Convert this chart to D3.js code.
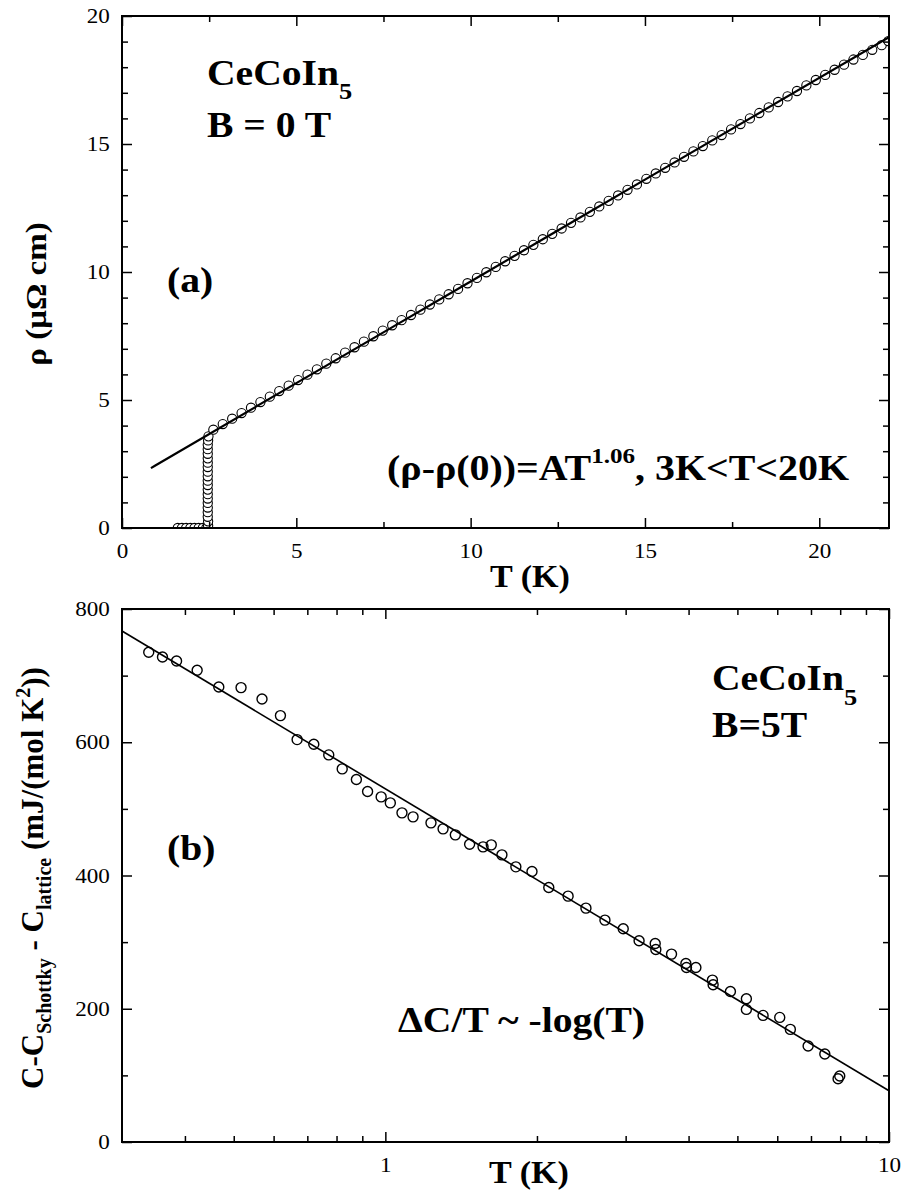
<!DOCTYPE html>
<html>
<head>
<meta charset="utf-8">
<script src="https://d3js.org/d3.v7.min.js"></script>
</head>
<body style="margin:0;background:#fff">
<div id="chart"></div>
<script>
// ---- panel (a): resistivity, B = 0 T ----
const resT = [1.60, 1.72, 1.84, 1.96, 2.08, 2.20, 2.32, 2.42,
    2.47, 2.47, 2.46, 2.46, 2.46, 2.46, 2.46, 2.46, 2.46, 2.46, 2.46,
    2.46, 2.46, 2.46, 2.46, 2.46, 2.46, 2.46, 2.46, 2.47, 2.48,
    2.62, 2.89, 3.16, 3.43, 3.70, 3.97, 4.24, 4.51, 4.78, 5.05,
    5.32, 5.59, 5.86, 6.13, 6.40, 6.67, 6.94, 7.21, 7.48, 7.75,
    8.02, 8.29, 8.56, 8.83, 9.10, 9.37, 9.64, 9.91, 10.18, 10.45,
    10.72, 10.99, 11.26, 11.53, 11.80, 12.07, 12.34, 12.61, 12.88, 13.15,
    13.42, 13.69, 13.96, 14.23, 14.50, 14.77, 15.04, 15.31, 15.58, 15.85,
    16.12, 16.39, 16.66, 16.93, 17.20, 17.47, 17.74, 18.01, 18.28, 18.55,
    18.82, 19.09, 19.36, 19.63, 19.90, 20.17, 20.44, 20.71, 20.98, 21.25,
    21.52, 21.79, 21.98];
const resRho = [0, 0, 0, 0, 0, 0, 0, 0,
    0.10, 0.26, 0.44, 0.62, 0.80, 0.98, 1.15, 1.32, 1.50, 1.68, 1.85,
    2.02, 2.20, 2.38, 2.55, 2.72, 2.90, 3.08, 3.25, 3.42, 3.58,
    3.84, 4.06, 4.27, 4.49, 4.70, 4.92, 5.13, 5.35, 5.56, 5.78,
    5.99, 6.20, 6.42, 6.63, 6.85, 7.06, 7.28, 7.49, 7.71, 7.92,
    8.12, 8.32, 8.53, 8.73, 8.93, 9.13, 9.34, 9.56, 9.77, 9.99,
    10.20, 10.42, 10.63, 10.85, 11.06, 11.28, 11.49, 11.70, 11.92, 12.13,
    12.35, 12.56, 12.78, 12.99, 13.21, 13.42, 13.64, 13.85, 14.07, 14.28,
    14.50, 14.71, 14.92, 15.14, 15.35, 15.57, 15.78, 16.00, 16.21, 16.43,
    16.64, 16.86, 17.07, 17.29, 17.50, 17.70, 17.90, 18.10, 18.30, 18.48,
    18.68, 18.86, 19.02];
// fit (rho - rho(0)) = A T^1.06
const resFitT = [0.83, 5, 10, 15, 22];
const resFitRho = [2.34, 5.66, 9.63, 13.61, 19.17];

const resXMajor = [0, 5, 10, 15, 20];
const resXMinor = [2.5, 7.5, 12.5, 17.5];
const resYMajor = [0, 5, 10, 15, 20];
const resYMinor = [1, 2, 3, 4, 6, 7, 8, 9, 11, 12, 13, 14, 16, 17, 18, 19];

// ---- panel (b): specific heat, B = 5 T ----
const heatT = [0.339, 0.361, 0.385, 0.423, 0.467, 0.517, 0.569, 0.619, 0.668, 0.721,
    0.772, 0.821, 0.876, 0.922, 0.981, 1.023, 1.079, 1.135, 1.232, 1.302,
    1.377, 1.470, 1.563, 1.623, 1.704, 1.816, 1.955, 2.111, 2.306, 2.502,
    2.729, 2.967, 3.190, 3.434, 3.444, 3.700, 3.951, 3.962, 4.136, 4.461,
    4.475, 4.843, 5.210, 5.210, 5.623, 6.068, 6.370, 6.909, 7.457, 7.984,
    7.923];
const heatC = [735, 728, 722, 708, 683, 682, 665, 640, 604, 597,
    581, 560, 544, 526, 518, 509, 494, 488, 479, 470,
    461, 447, 443, 446, 431, 413, 406, 382, 369, 351,
    333, 320, 302, 298, 289, 282, 268, 262, 262, 243,
    236, 226, 215, 199, 190, 187, 169, 144, 132, 99,
    95];
const heatFitT = [0.3, 10];
const heatFitC = [767, 77];

const heatXMajor = [1, 10];
const heatXMinor = [0.4, 0.5, 0.6, 0.7, 0.8, 0.9, 2, 3, 4, 5, 6, 7, 8, 9];
const heatYMajor = [0, 200, 400, 600, 800];
const heatYMinor = [100, 300, 500, 700];

// ---- drawing ----
const FONT = "Liberation Serif";
const SX = 1.1;   // the original lettering is a little wider than Times
const W = 906, H = 1193;
const svg = d3.select("#chart").append("svg")
    .attr("width", W)
    .attr("height", H)
    .attr("font-family", FONT)
    .style("display", "block");

function styleAxis(sel) {
    sel.attr("font-family", FONT).attr("font-size", 21);
    sel.selectAll(".domain").remove();
    sel.selectAll("line").attr("stroke", "#000").attr("stroke-width", 1.5);
    sel.selectAll("text")
        .attr("fill", "#000")
        .attr("font-family", FONT)
        .attr("font-size", 21)
        .attr("transform", "scale(" + SX + ",1)");
}

function drawAxes(g, x, y, t) {
    let w = x.range()[1], h = y.range()[0];

    g.append("g")
        .attr("transform", "translate(0," + h + ")")
        .call(d3.axisBottom(x).tickValues(t.xMajor).tickSize(-10).tickPadding(15).tickFormat(t.xFormat))
        .call(styleAxis);
    g.append("g")
        .attr("transform", "translate(0," + h + ")")
        .call(d3.axisBottom(x).tickValues(t.xMinor).tickSize(-6).tickFormat(""))
        .call(styleAxis);
    g.append("g")
        .call(d3.axisTop(x).tickValues(t.xMajor).tickSize(-10).tickFormat(""))
        .call(styleAxis);
    g.append("g")
        .call(d3.axisTop(x).tickValues(t.xMinor).tickSize(-6).tickFormat(""))
        .call(styleAxis);

    g.append("g")
        .call(d3.axisLeft(y).tickValues(t.yMajor).tickSize(-10).tickPadding(11).tickFormat(d3.format("d")))
        .call(styleAxis);
    g.append("g")
        .call(d3.axisLeft(y).tickValues(t.yMinor).tickSize(-6).tickFormat(""))
        .call(styleAxis);
    g.append("g")
        .attr("transform", "translate(" + w + ",0)")
        .call(d3.axisRight(y).tickValues(t.yMajor).tickSize(-10).tickFormat(""))
        .call(styleAxis);
    g.append("g")
        .attr("transform", "translate(" + w + ",0)")
        .call(d3.axisRight(y).tickValues(t.yMinor).tickSize(-6).tickFormat(""))
        .call(styleAxis);

    g.append("rect")
        .attr("width", w)
        .attr("height", h)
        .attr("fill", "none")
        .attr("stroke", "#000")
        .attr("stroke-width", 2);
}

// bold text with sub/superscripts: parts = [[text, shift, size]]
function richText(g, x, y, size, parts, anchor, rot, sx) {
    let t = g.append("text")
        .attr("transform", "translate(" + x + "," + y + ")" + (rot ? " rotate(" + rot + ")" : "") +
            " scale(" + (sx || SX) + ",1)")
        .attr("fill", "#000")
        .attr("text-anchor", anchor || "start")
        .attr("font-family", FONT)
        .attr("font-weight", "bold")
        .attr("font-size", size);
    let prev = 0;
    parts.forEach(function(p) {
        let s = p[1] || 0;
        t.append("tspan")
            .attr("dy", s - prev)
            .attr("font-size", p[2] || size)
            .text(p[0]);
        prev = s;
    });
    return t;
}

// panel (a)
let gA = svg.append("g").attr("transform", "translate(122,16)");
let xA = d3.scaleLinear().domain([0, 22]).range([0, 767]);
let yA = d3.scaleLinear().domain([0, 20]).range([512, 0]);

gA.append("clipPath").attr("id", "clipA")
    .append("rect").attr("width", 767).attr("height", 512);

let resData = resT.map((t, i) => ({ t: t, v: resRho[i] }));
let resFit = resFitT.map((t, i) => ({ t: t, v: resFitRho[i] }));

let plotA = gA.append("g").attr("clip-path", "url(#clipA)");
plotA.selectAll("circle")
    .data(resData)
    .enter()
    .append("circle")
    .attr("cx", d => xA(d.t))
    .attr("cy", d => yA(d.v))
    .attr("r", 4.6)
    .attr("fill", "#fff")
    .attr("stroke", "#000")
    .attr("stroke-width", 1.1);
plotA.append("path")
    .datum(resFit)
    .attr("d", d3.line().x(d => xA(d.t)).y(d => yA(d.v)).curve(d3.curveMonotoneX))
    .attr("fill", "none")
    .attr("stroke", "#000")
    .attr("stroke-width", 2.2);

drawAxes(gA, xA, yA, {
    xMajor: resXMajor, xMinor: resXMinor, yMajor: resYMajor, yMinor: resYMinor,
    xFormat: d3.format("d")
});

richText(gA, 85, 69, 36, [["CeCoIn"], ["5", 14, 24]]);
richText(gA, 85, 121, 36, [["B = 0 T"]]);
richText(gA, 45, 276, 36, [["(a)"]]);
richText(gA, 265, 464, 35, [["(ρ-ρ(0))=AT"], ["1.06", -17, 22], [", 3K<T<20K", 0]], "start", 0, 1.14);

richText(svg, 530, 587, 31, [["T (K)"]], "middle");
richText(svg, 46, 294, 30, [["ρ (μΩ cm)"]], "middle", -90);

// panel (b)
let gB = svg.append("g").attr("transform", "translate(122,609)");
let xB = d3.scaleLog().domain([0.3, 10]).range([0, 767]);
let yB = d3.scaleLinear().domain([0, 800]).range([533, 0]);

let heatData = heatT.map((t, i) => ({ t: t, v: heatC[i] }));
let heatFit = heatFitT.map((t, i) => ({ t: t, v: heatFitC[i] }));

gB.append("path")
    .datum(heatFit)
    .attr("d", d3.line().x(d => xB(d.t)).y(d => yB(d.v)))
    .attr("fill", "none")
    .attr("stroke", "#000")
    .attr("stroke-width", 1.6);
gB.selectAll("circle")
    .data(heatData)
    .enter()
    .append("circle")
    .attr("cx", d => xB(d.t))
    .attr("cy", d => yB(d.v))
    .attr("r", 5)
    .attr("fill", "none")
    .attr("stroke", "#000")
    .attr("stroke-width", 1.4);

drawAxes(gB, xB, yB, {
    xMajor: heatXMajor, xMinor: heatXMinor, yMajor: heatYMajor, yMinor: heatYMinor,
    xFormat: d3.format("d")
});

richText(gB, 590, 81, 36, [["CeCoIn"], ["5", 15, 24]]);
richText(gB, 590, 128, 36, [["B=5T"]]);
richText(gB, 45, 251, 36, [["(b)"]]);
richText(gB, 276, 423, 36, [["ΔC/T ~ -log(T)"]]);

richText(svg, 529, 1183, 31, [["T (K)"]], "middle");
richText(svg, 43, 878, 31, [
    ["C-C"], ["Schottky", 8, 20], [" - C", 0], ["lattice", 8, 20],
    [" (mJ/(mol K", 0], ["2", -13, 20], ["))", 0]
], "middle", -90, 1.0);
</script>
</body>
</html>
